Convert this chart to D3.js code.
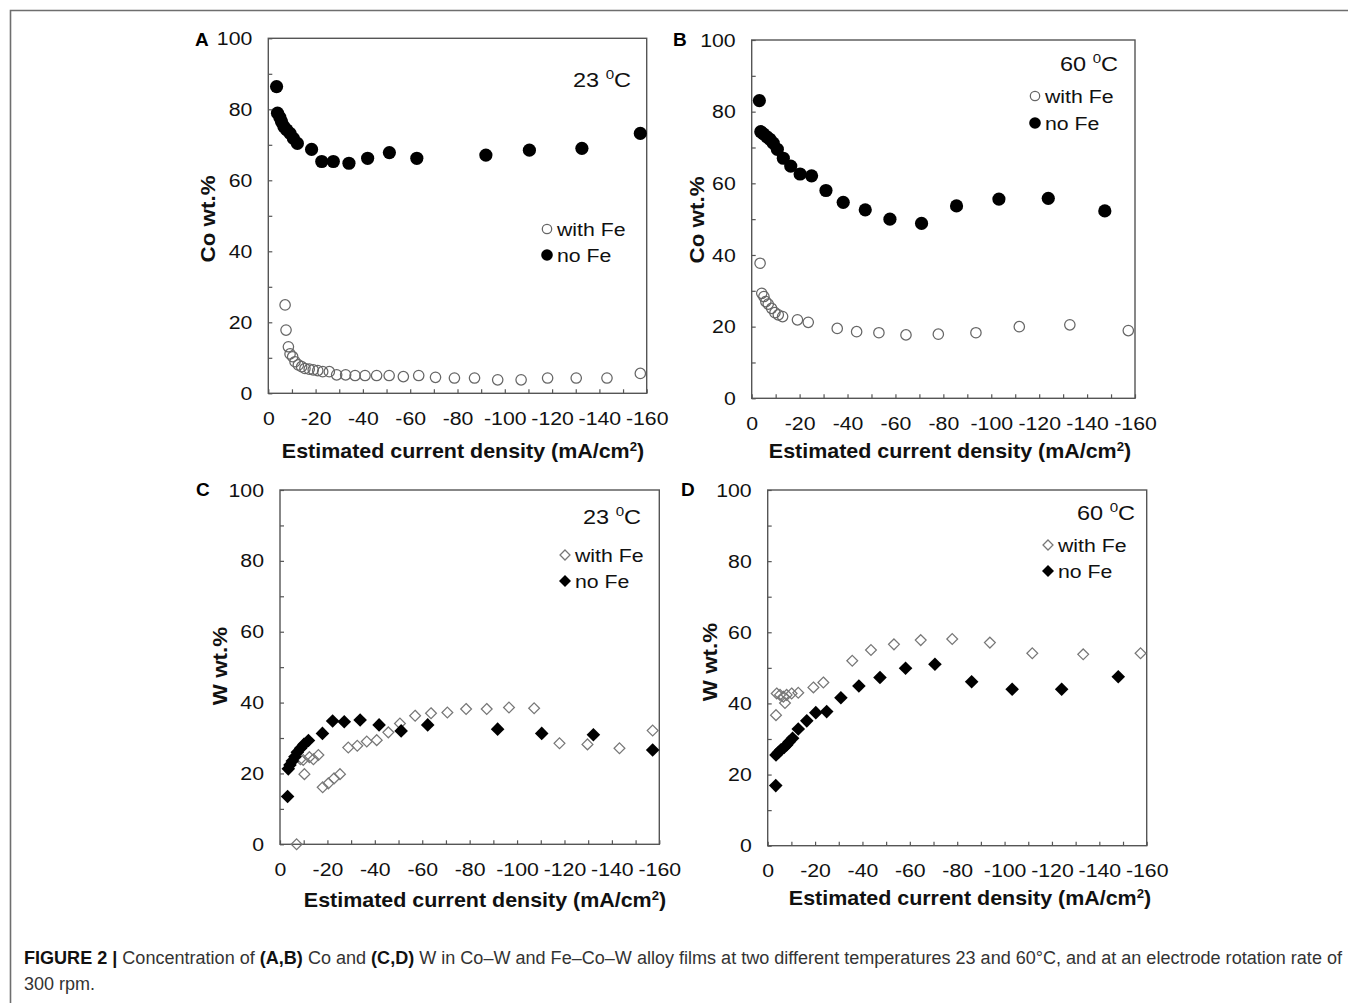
<!DOCTYPE html>
<html><head><meta charset="utf-8">
<script src="https://cdn.jsdelivr.net/npm/d3@7"></script>
<style>
body{margin:0;background:#fff;}
svg{display:block;font-family:"Liberation Sans",Arial,Helvetica,sans-serif;}
</style>
</head><body>
<svg id="c" width="1348" height="1003"></svg>
<script>
// ---------------- DATA ----------------
const xTickValues = [0, -20, -40, -60, -80, -100, -120, -140, -160];
const yTickValues = [0, 20, 40, 60, 80, 100];
const seriesNames = ["with Fe", "no Fe"];

// Panel A: Co wt.% at 23 C
const aWithFe = [[-7.1,24.9],[-7.5,17.8],[-8.5,13.1],[-9.2,11.1],[-10.3,10.3],[-11.3,8.9],[-12.7,8.0],[-14.1,7.5],[-15.5,7.0],[-17.3,6.8],[-19.0,6.6],[-20.9,6.4],[-23.0,6.1],[-25.8,6.1],[-28.9,5.2],[-32.7,5.2],[-36.7,5.0],[-40.9,5.0],[-45.8,5.0],[-51.1,5.0],[-57.1,4.7],[-63.6,5.0],[-70.7,4.5],[-78.7,4.3],[-87.2,4.3],[-97.0,3.8],[-106.9,3.8],[-118.1,4.3],[-130.2,4.3],[-143.2,4.3],[-157.3,5.6]];
const aNoFe = [[-3.5,86.4],[-3.9,78.9],[-4.9,77.7],[-5.6,76.5],[-6.6,75.1],[-7.8,74.2],[-9.2,73.2],[-10.6,71.8],[-12.3,70.4],[-18.3,68.7],[-22.6,65.3],[-27.5,65.3],[-34.1,64.8],[-42.0,66.2],[-51.2,67.8],[-62.8,66.2],[-92.0,67.1],[-110.4,68.5],[-132.6,69.0],[-157.3,73.2]];

// Panel B: Co wt.% at 60 C
const bWithFe = [[-3.5,37.7],[-4.2,29.3],[-5.1,28.4],[-5.9,27.0],[-6.9,26.3],[-8.3,25.1],[-9.7,23.9],[-11.1,23.3],[-12.9,22.8],[-19.1,21.9],[-23.6,21.2],[-35.7,19.5],[-43.8,18.6],[-53.1,18.3],[-64.4,17.7],[-77.9,17.9],[-93.6,18.3],[-111.7,20.0],[-132.8,20.5],[-157.2,18.9]];
const bNoFe = [[-3.2,83.1],[-3.8,74.4],[-4.9,73.8],[-6.3,73.0],[-7.6,72.3],[-9.0,71.2],[-10.7,69.5],[-13.2,67.0],[-16.3,64.8],[-20.2,62.6],[-25.0,62.1],[-31.0,58.0],[-38.2,54.7],[-47.4,52.6],[-57.7,50.0],[-70.9,48.8],[-85.5,53.7],[-103.2,55.6],[-123.8,55.8],[-147.4,52.3]];

// Panel C: W wt.% at 23 C
const cWithFe = [[-7.0,0.0],[-8.6,24.0],[-9.8,23.8],[-10.3,19.8],[-12.4,24.6],[-14.1,24.0],[-16.2,25.2],[-18.0,16.1],[-20.4,17.2],[-22.8,18.6],[-25.3,19.8],[-28.8,27.3],[-32.6,27.8],[-36.6,29.0],[-40.8,29.4],[-45.7,31.6],[-50.6,34.1],[-57.0,36.3],[-63.7,37.0],[-70.6,37.2],[-78.5,38.2],[-87.2,38.2],[-96.6,38.6],[-107.2,38.4],[-117.9,28.5],[-129.7,28.2],[-143.2,27.1],[-157.2,32.1]];
const cNoFe = [[-3.2,13.5],[-3.5,21.3],[-4.2,22.4],[-5.2,23.5],[-6.3,24.7],[-7.3,26.0],[-8.7,27.1],[-10.1,28.2],[-12.0,29.3],[-17.9,31.3],[-22.2,34.8],[-27.1,34.6],[-33.8,35.1],[-41.8,33.7],[-51.1,32.0],[-62.3,33.7],[-91.8,32.5],[-110.4,31.3],[-132.2,30.9],[-157.2,26.6]];

// Panel D: W wt.% at 60 C
const dWithFe = [[-3.5,36.7],[-3.8,42.8],[-5.2,42.4],[-6.6,41.9],[-7.3,40.1],[-8.0,42.4],[-10.1,42.8],[-12.9,43.0],[-19.3,44.5],[-23.5,45.9],[-35.7,52.0],[-43.6,55.0],[-53.3,56.6],[-64.6,57.8],[-77.9,58.1],[-93.8,57.1],[-111.7,54.1],[-133.2,53.8],[-157.4,54.1]];
const dNoFe = [[-3.4,16.9],[-3.5,25.5],[-4.5,26.2],[-5.5,26.9],[-6.9,27.6],[-8.0,28.3],[-9.1,29.2],[-10.5,30.2],[-12.9,32.8],[-16.5,35.1],[-20.3,37.4],[-24.9,37.7],[-30.9,41.6],[-38.5,44.9],[-47.4,47.3],[-58.2,49.9],[-70.6,51.0],[-86.1,46.1],[-103.2,44.0],[-124.1,44.0],[-148.0,47.5]];

const panelLetters = ["A", "B", "C", "D"];
const yTitles = ["Co wt.%", "Co wt.%", "W wt.%", "W wt.%"];
const temps = ["23", "60", "23", "60"];
const xTitle = "Estimated current density (mA/cm";

// ---------------- DRAW ----------------
const SX = 1.12;
const svg = d3.select("#c");

svg.append("path").attr("d", "M10.5,1003V10.5H1348")
  .attr("fill", "none").attr("stroke", "#6e6e6e").attr("stroke-width", 1.6);

const layouts = [
  {l:268.3, r:646.7, t:38.3, b:393.3, xt:[463,451], yt:[208,219], lg:[547,229,255], tp:[573,87], lt:[195,46], marker:"circle"},
  {l:751.7, r:1135,  t:40,   b:398.3, xt:[950,451], yt:[697,220], lg:[1035,96,123], tp:[1060,71], lt:[673,46], marker:"circle"},
  {l:280,   r:659.3, t:490,  b:844.3, xt:[485,900], yt:[220,666], lg:[565,555,581], tp:[583,524], lt:[196,496], marker:"diamond"},
  {l:767.7, r:1146.7,t:490,  b:845.7, xt:[970,898], yt:[710,662], lg:[1048,545,571], tp:[1077,520], lt:[681,496], marker:"diamond"}
];
const datasets = [[aWithFe,aNoFe],[bWithFe,bNoFe],[cWithFe,cNoFe],[dWithFe,dNoFe]];

function diamondPath(s){ return `M0,${-s}L${s},0L0,${s}L${-s},0Z`; }

function drawMarker(g, type, filled, big){
  if(type === "circle"){
    g.append("circle").attr("r", filled ? (big?6.6:5.8) : (big?5.2:4.7))
      .attr("fill", filled ? "#000" : "none")
      .attr("stroke", filled ? "#000" : "#666")
      .attr("stroke-width", filled ? 0 : 1.25);
  } else {
    g.append("path").attr("d", diamondPath(filled ? (big?6.8:6.0) : (big?5.4:5.0)))
      .attr("fill", filled ? "#000" : "none")
      .attr("stroke", filled ? "#000" : "#777")
      .attr("stroke-width", filled ? 0 : 1.25);
  }
}

layouts.forEach((p, i) => {
  const g = svg.append("g");
  const x = d3.scaleLinear().domain([0, -160]).range([p.l, p.r]);
  const y = d3.scaleLinear().domain([0, 100]).range([p.b, p.t]);

  // x axis (ticks inside)
  const xa = g.append("g").attr("transform", `translate(0,${p.b})`)
    .call(d3.axisBottom(x).tickValues(d3.range(0, -161, -10))
      .tickFormat(d => xTickValues.includes(d) ? String(d) : "")
      .tickSizeInner(-4).tickSizeOuter(0).tickPadding(18));
  xa.select(".domain").remove();
  xa.selectAll("line").attr("stroke", "#555").attr("stroke-width", 1.2);
  xa.selectAll("text").attr("font-size", 19).attr("fill", "#111")
    .attr("font-family", "Liberation Sans, Arial, sans-serif")
    .attr("transform", `scale(${SX},1)`);

  // y axis
  const ya = g.append("g").attr("transform", `translate(${p.l},0)`)
    .call(d3.axisLeft(y).tickValues(d3.range(0, 101, 10))
      .tickFormat(d => yTickValues.includes(d) ? String(d) : "")
      .tickSizeInner(-4).tickSizeOuter(0).tickPadding(16 / SX));
  ya.select(".domain").remove();
  ya.selectAll("line").attr("stroke", "#555").attr("stroke-width", 1.2);
  ya.selectAll("text").attr("font-size", 19).attr("fill", "#111")
    .attr("font-family", "Liberation Sans, Arial, sans-serif")
    .attr("transform", `scale(${SX},1)`);

  // plot frame
  g.append("rect").attr("x", p.l).attr("y", p.t)
    .attr("width", p.r - p.l).attr("height", p.b - p.t)
    .attr("fill", "none").attr("stroke", "#555").attr("stroke-width", 1.4);

  // data
  const [withFe, noFe] = datasets[i];
  [[withFe, false], [noFe, true]].forEach(([arr, filled]) => {
    arr.forEach(d => {
      const m = g.append("g").attr("transform", `translate(${x(d[0])},${y(d[1])})`);
      drawMarker(m, p.marker, filled, true);
    });
  });

  // legend
  seriesNames.forEach((name, k) => {
    const ly = p.lg[1 + k];
    const m = g.append("g").attr("transform", `translate(${p.lg[0]},${ly})`);
    drawMarker(m, p.marker, k === 1, false);
    g.append("text").attr("transform", `translate(${p.lg[0] + 10},${ly}) scale(${SX},1)`)
      .attr("dy", "0.35em").attr("font-size", 19).attr("fill", "#111").text(name);
  });

  // temperature label
  const tt = g.append("text").attr("transform", `translate(${p.tp[0]},${p.tp[1]}) scale(${SX},1)`)
    .attr("font-size", 21).attr("fill", "#111");
  tt.append("tspan").text(temps[i] + " ");
  tt.append("tspan").attr("font-size", 13.5).attr("dy", -8).text("0");
  tt.append("tspan").attr("dy", 8).text("C");

  // x title
  const xtl = g.append("text").attr("transform", `translate(${p.xt[0]},${p.xt[1]}) scale(1.1,1)`)
    .attr("text-anchor", "middle").attr("dy", "0.35em")
    .attr("font-size", 19.5).attr("font-weight", "bold").attr("fill", "#111");
  xtl.append("tspan").text(xTitle);
  xtl.append("tspan").attr("font-size", 12).attr("dy", -7).text("2");
  xtl.append("tspan").attr("dy", 7).text(")");

  // y title
  g.append("text").attr("transform", `translate(${p.yt[0]},${p.yt[1]}) rotate(-90) scale(1.12,1)`)
    .attr("text-anchor", "middle").attr("dy", "0.35em")
    .attr("font-size", 20).attr("font-weight", "bold").attr("fill", "#111")
    .text(yTitles[i]);

  // panel letter
  g.append("text").attr("x", p.lt[0]).attr("y", p.lt[1])
    .attr("font-size", 19).attr("font-weight", "bold").attr("fill", "#000")
    .text(panelLetters[i]);
});

// caption
const cap1 = svg.append("text").attr("x", 24).attr("y", 964).attr("font-size", 18)
  .attr("fill", "#333").attr("textLength", 1318).attr("lengthAdjust", "spacingAndGlyphs");
[["FIGURE 2 | ", true, "#111"], ["Concentration of ", false], ["(A,B)", true, "#111"], [" Co and ", false],
 ["(C,D)", true, "#111"], [" W in Co–W and Fe–Co–W alloy films at two different temperatures 23 and 60°C, and at an electrode rotation rate of", false]]
  .forEach(([t, b, c]) => {
    const s = cap1.append("tspan").text(t);
    if (b) s.attr("font-weight", "bold").attr("fill", c);
  });
svg.append("text").attr("x", 24).attr("y", 990).attr("font-size", 18).attr("fill", "#333").text("300 rpm.");
</script>
</body></html>
